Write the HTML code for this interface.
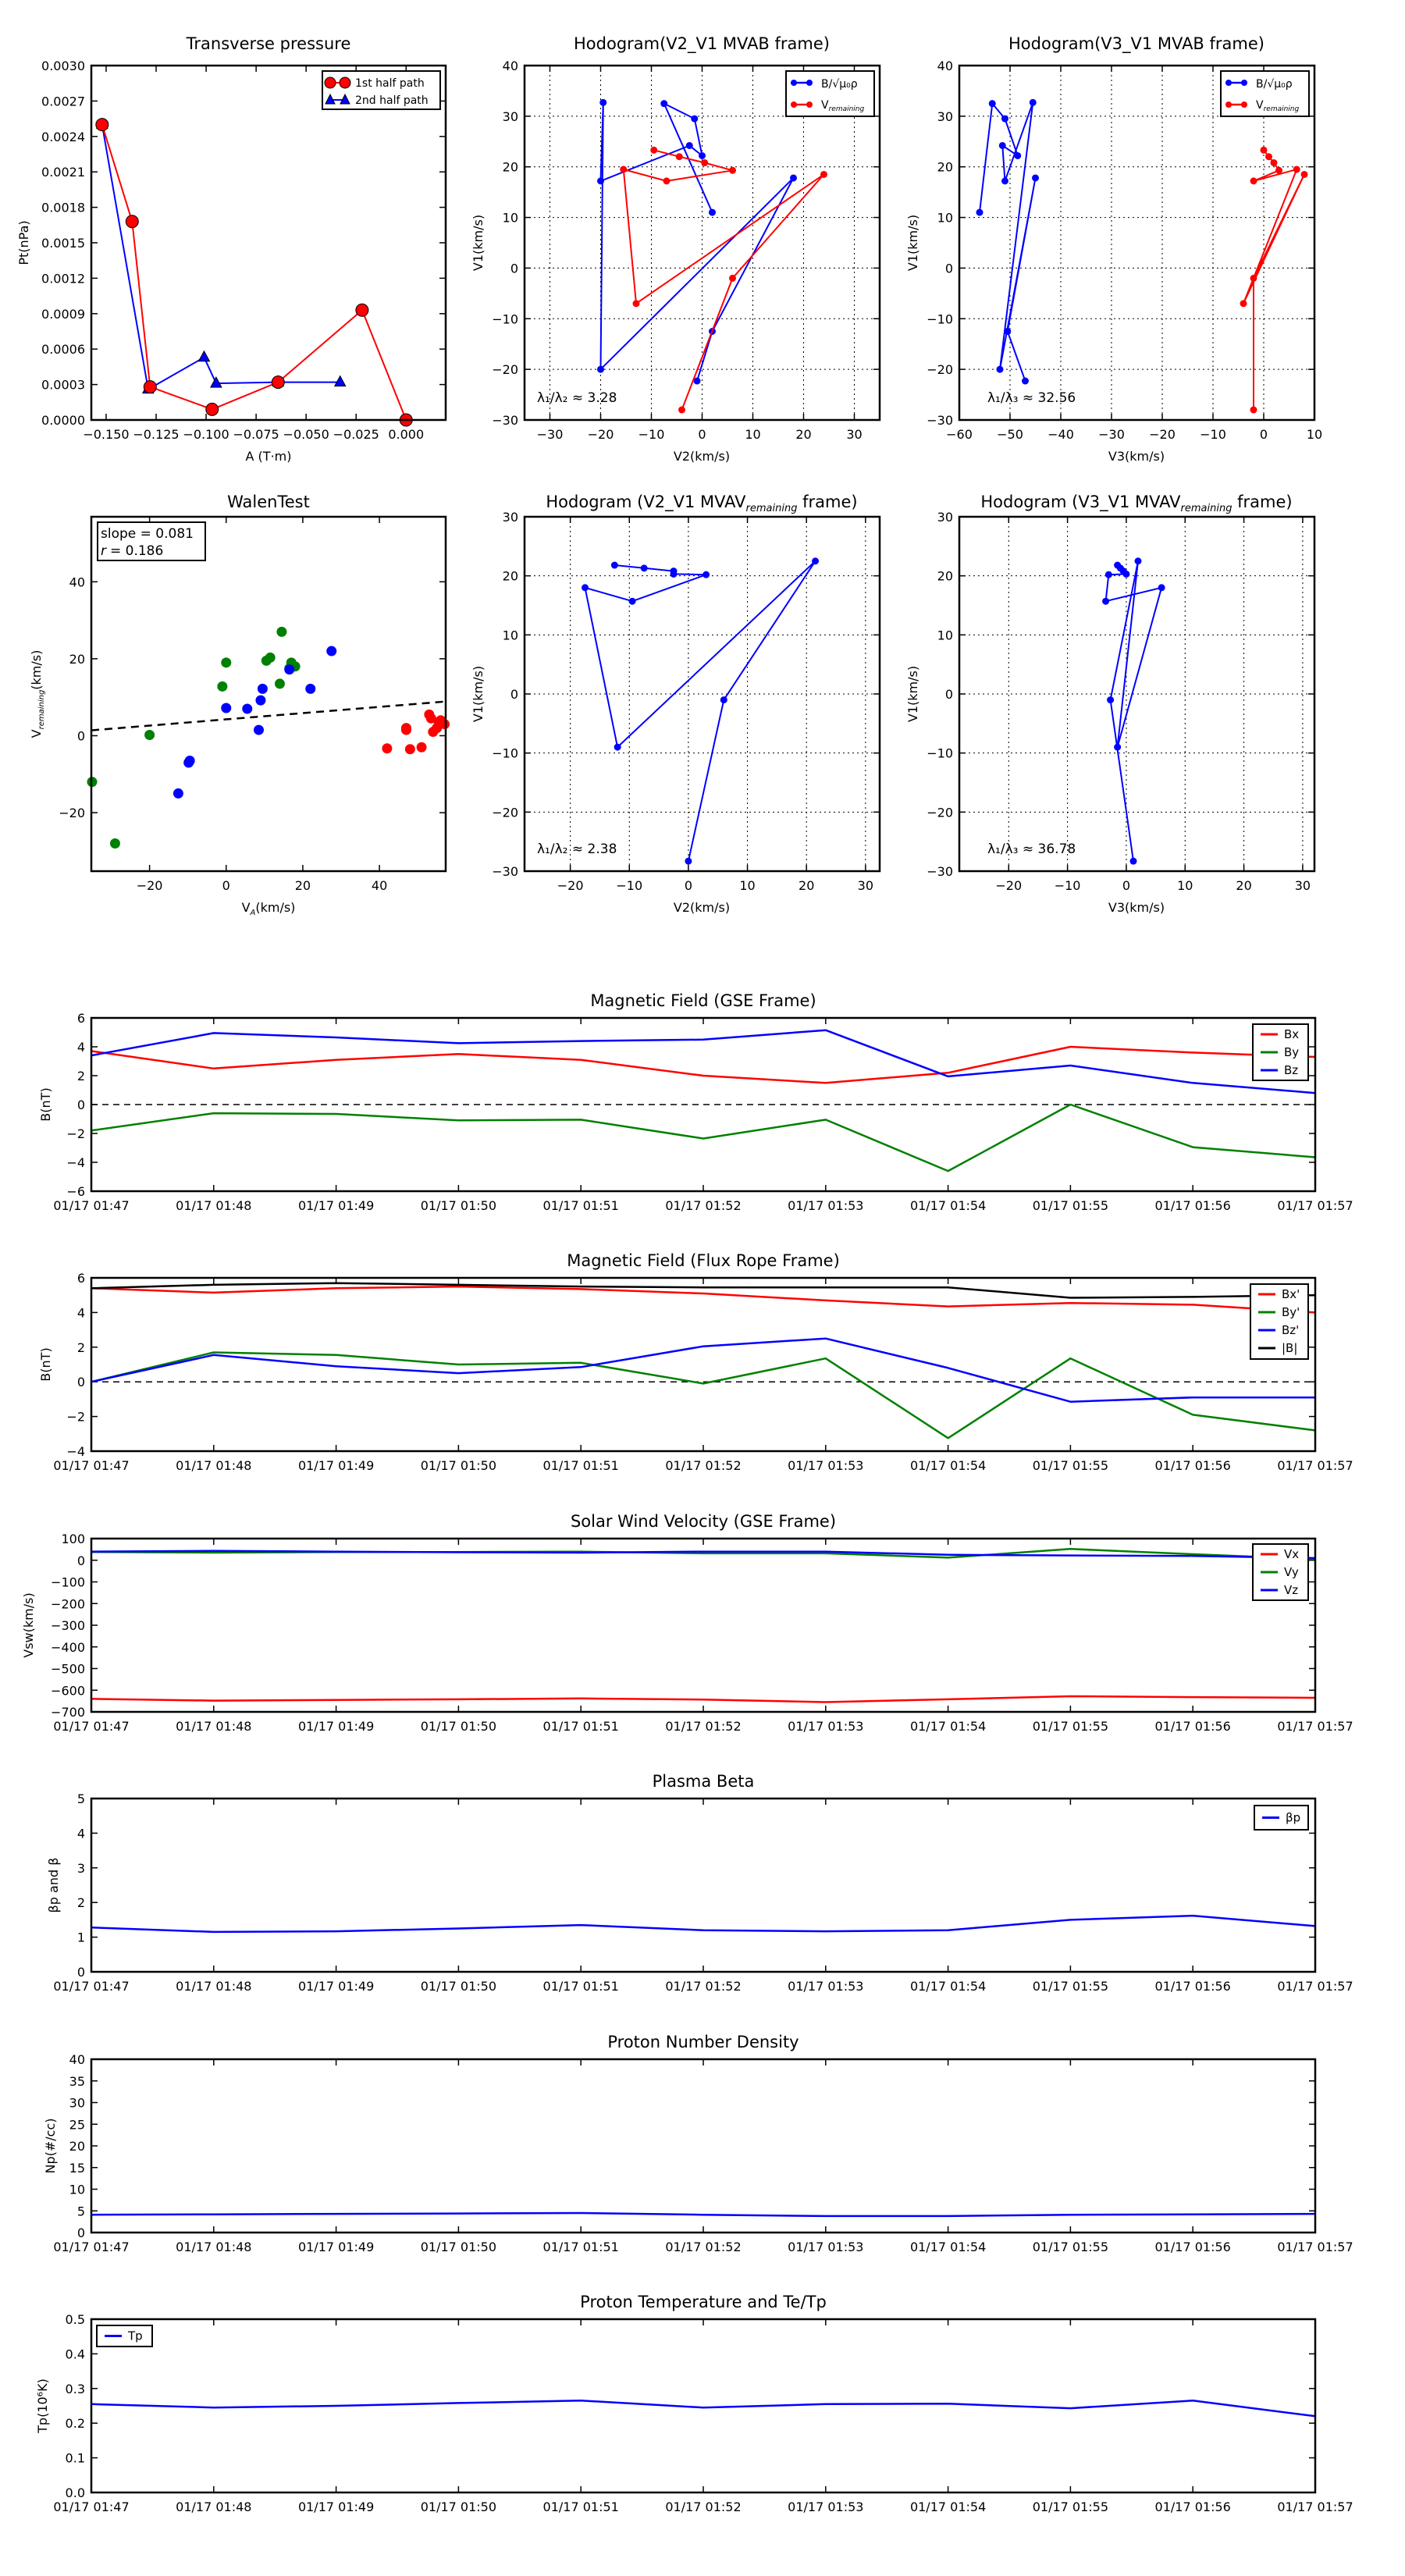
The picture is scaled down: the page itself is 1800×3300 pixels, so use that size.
<!DOCTYPE html>
<html><head><meta charset="utf-8"><style>
html,body{margin:0;padding:0;background:#fff;}
svg{display:block;font-family:"DejaVu Sans","Liberation Sans",sans-serif;}
</style></head><body>
<svg id="fig" width="1800" height="3300" viewBox="0 0 1800 3300" xmlns="http://www.w3.org/2000/svg"></svg>
<script>
const NS="http://www.w3.org/2000/svg";
// ---------- DATA ----------
const timeLabels=["01/17 01:47","01/17 01:48","01/17 01:49","01/17 01:50","01/17 01:51","01/17 01:52","01/17 01:53","01/17 01:54","01/17 01:55","01/17 01:56","01/17 01:57"];
const gseBx=[3.7,2.5,3.1,3.5,3.1,2.0,1.5,2.2,4.0,3.6,3.3];
const gseBy=[-1.8,-0.6,-0.65,-1.1,-1.05,-2.35,-1.05,-4.6,0.0,-2.95,-3.65];
const gseBz=[3.4,4.95,4.65,4.25,4.4,4.5,5.15,1.95,2.7,1.5,0.8];
const frBx=[5.4,5.15,5.4,5.5,5.35,5.1,4.7,4.35,4.55,4.45,4.0];
const frBy=[0,1.7,1.55,1.0,1.1,-0.1,1.35,-3.25,1.35,-1.9,-2.8];
const frBz=[0,1.55,0.9,0.5,0.85,2.05,2.5,0.8,-1.15,-0.9,-0.9];
const frBt=[5.4,5.6,5.7,5.6,5.5,5.45,5.45,5.45,4.85,4.9,5.0];
const vswVx=[-640,-648,-645,-642,-638,-643,-655,-642,-628,-632,-635];
const vswVy=[38,35,38,38,40,32,32,12,52,28,5];
const vswVz=[40,43,40,37,35,40,40,25,22,20,10];
const betaP=[1.28,1.15,1.17,1.25,1.35,1.2,1.17,1.2,1.5,1.62,1.32];
const densNp=[4.1,4.2,4.3,4.4,4.5,4.1,3.8,3.8,4.1,4.2,4.3];
const tempTp=[0.255,0.245,0.25,0.258,0.265,0.245,0.255,0.256,0.243,0.265,0.22];
const ptA1=[-0.152,-0.137,-0.128,-0.097,-0.064,-0.022,0.000];
const ptP1=[0.0025,0.00168,0.00028,0.00009,0.00032,0.00093,0.0];
const ptA2=[-0.152,-0.129,-0.101,-0.095,-0.064,-0.033];
const ptP2=[0.0025,0.00026,0.00053,0.00031,0.00032,0.00032];
const hbV2=[2,-7.5,-1.5,0,-2.5,-20,-19.5,-20,18,2,-1];
const hbV3=[-56,-53.5,-51,-48.5,-51.5,-51,-45.5,-52,-45,-50.5,-47];
const hbV1=[11,32.5,29.5,22.2,24.2,17.2,32.7,-20,17.8,-12.5,-22.3];
const hrV2=[-9.5,-4.5,0.5,6,-7,-15.5,-13,24,6,-4];
const hrV3=[0,1,2,3,-2,6.5,-4,8,-2,-2];
const hrV1=[23.3,22,20.8,19.3,17.2,19.5,-7,18.5,-2,-28];
const walenGX=[-35,-29,-20,-1,0,10.5,11.5,14.5,14,17,18,16.5];
const walenGY=[-12,-28,0.2,12.8,19,19.5,20.3,27,13.5,19,18,17.5];
const walenBX=[0,5.5,9,9.5,8.5,16.5,22,27.5,-9.5,-9.8,-12.5];
const walenBY=[7.2,7,9.2,12.2,1.5,17.2,12.2,22,-6.5,-7,-15];
const walenRX=[42,47,47,48,51,53,53.5,54,55.5,56,57,55];
const walenRY=[-3.3,2,1.5,-3.5,-3,5.5,4.5,1,3.5,4,3,2];
const walenSlope=0.081, walenIntercept=4.25;
const mvV2=[-12.5,-7.5,-2.5,-2.5,3,-9.5,-17.5,-12,21.5,6,0];
const mvV3=[-1.5,-1,-0.5,0,-3,-3.5,6,-1.5,2,-2.7,1.2];
const mvV1=[21.8,21.3,20.8,20.3,20.2,15.7,18,-9,22.5,-1,-28.3];

const svg=document.getElementById('fig');
const C1={x0:117,x1:571}, C2={x0:672,x1:1127}, C3={x0:1229,x1:1684};
const R1={y0:84,y1:538}, R2={y0:662,y1:1116};
function mk(tag,attrs,name,parent){
  const el=document.createElementNS(NS,tag);
  for(const k in attrs) el.setAttribute(k,attrs[k]);
  
  
  (parent||svg).appendChild(el);
  return el;
}
function txt(x,y,s,size,anchor,name,rot){
  const a={x:x,y:y,'font-size':size,'text-anchor':anchor||'middle',fill:'#000'};
  if(rot) a.transform='rotate(-90 '+x+' '+y+')';
  const t=mk('text',a,name);
  t.textContent=s; return t;
}
function scale(d0,d1,r0,r1){return v=>r0+(v-d0)/(d1-d0)*(r1-r0);}
function axes(b,xd,yd,xt,xl,yt,yl,grid,pfx){
  const X=scale(xd[0],xd[1],b.x0,b.x1), Y=scale(yd[0],yd[1],b.y1,b.y0);
  if(grid){
    xt.forEach(v=>{mk('line',{x1:X(v),x2:X(v),y1:b.y0,y2:b.y1,stroke:'#000','stroke-width':1,'stroke-dasharray':'2,4'},pfx+'-x-grid');});
    yt.forEach(v=>{mk('line',{x1:b.x0,x2:b.x1,y1:Y(v),y2:Y(v),stroke:'#000','stroke-width':1,'stroke-dasharray':'2,4'},pfx+'-y-grid');});
  }
  xt.forEach((v,i)=>{
    mk('line',{x1:X(v),x2:X(v),y1:b.y1,y2:b.y1-8,stroke:'#000','stroke-width':1.5},pfx+'-x-tick');
    mk('line',{x1:X(v),x2:X(v),y1:b.y0,y2:b.y0+8,stroke:'#000','stroke-width':1.5},pfx+'-x-tick-top');
    txt(X(v),b.y1+24,xl[i],16,'middle',pfx+'-x-tick-label');
  });
  yt.forEach((v,i)=>{
    mk('line',{x1:b.x0,x2:b.x0+8,y1:Y(v),y2:Y(v),stroke:'#000','stroke-width':1.5},pfx+'-y-tick');
    mk('line',{x1:b.x1,x2:b.x1-8,y1:Y(v),y2:Y(v),stroke:'#000','stroke-width':1.5},pfx+'-y-tick-right');
    txt(b.x0-8,Y(v)+6,yl[i],16,'end',pfx+'-y-tick-label');
  });
  return {X,Y};
}
function frame(b,pfx){mk('rect',{x:b.x0,y:b.y0,width:b.x1-b.x0,height:b.y1-b.y0,fill:'none',stroke:'#000','stroke-width':2.5},pfx+'-frame');}
function line(xs,ys,X,Y,color,name,w){
  const pts=xs.map((v,i)=>X(v).toFixed(1)+','+Y(ys[i]).toFixed(1)).join(' ');
  return mk('polyline',{points:pts,fill:'none',stroke:color,'stroke-width':w||2.5,'stroke-linejoin':'round'},name);
}
function dots(xs,ys,X,Y,color,r,name){
  xs.forEach((v,i)=>{mk('circle',{cx:X(v),cy:Y(ys[i]),r:r,fill:color,stroke:color},name);});
}
function range(a,b,s){const r=[];for(let v=a;v<=b+1e-9;v+=s)r.push(+v.toFixed(6));return r;}
function legendBox(x,y,w,h,entries,name){
  mk('rect',{x:x,y:y,width:w,height:h,fill:'#fff',stroke:'#000','stroke-width':2},name);
  const start=entries.length===1?h/2:13;
  entries.forEach((e,i)=>{
    const yy=y+start+i*(e.step||23);
    mk('line',{x1:x+10,x2:x+32,y1:yy,y2:yy,stroke:e.c,'stroke-width':3},name+'-swatch');
    txt(x+40,yy+5,e.t,15,'start',name+'-label');
  });
}
function neg(v){return v<0?'\u2212'+(-v):''+v;}

// ---------- Transverse pressure ----------
(function(){
  const b={x0:C1.x0,x1:C1.x1,y0:R1.y0,y1:R1.y1};
  const xd=[-0.1574,0.0198], yd=[0,0.003];
  const xt=range(-0.15,0,0.025), yt=range(0,0.003,0.0003);
  const xl=xt.map(v=>(v<0?'\u2212':'')+Math.abs(v).toFixed(3));
  const yl=yt.map(v=>v.toFixed(4));
  const {X,Y}=axes(b,xd,yd,xt,xl,yt,yl,false,'pressure');
  line(ptA2,ptP2,X,Y,'#0000ff','second-half-path-line',2);
  line(ptA1,ptP1,X,Y,'#ff0000','first-half-path-line',2);
  ptA2.forEach((v,i)=>{const x=X(v),y=Y(ptP2[i]);mk('polygon',{points:`${x},${y-8} ${x-7},${y+5} ${x+7},${y+5}`,fill:'#0000ff',stroke:'#000'},'second-half-marker');});
  ptA1.forEach((v,i)=>{mk('circle',{cx:X(v),cy:Y(ptP1[i]),r:8,fill:'#ff0000',stroke:'#000'},'first-half-marker');});
  frame(b,'pressure');
  txt(344,63,'Transverse pressure',21,'middle','pressure-title');
  txt(344,590,'A (T\u00B7m)',16,'middle','pressure-x-title');
  txt(36,311,'Pt(nPa)',16,'middle','pressure-y-title',true);
  mk('rect',{x:413,y:91,width:151,height:49,fill:'#fff',stroke:'#000','stroke-width':2},'pressure-legend');
  mk('line',{x1:420,x2:445,y1:106,y2:106,stroke:'#ff0000','stroke-width':2},'legend-1st-line');
  mk('circle',{cx:423,cy:106,r:7,fill:'#ff0000',stroke:'#000'},'legend-1st-marker');
  mk('circle',{cx:442,cy:106,r:7,fill:'#ff0000',stroke:'#000'},'legend-1st-marker');
  txt(455,111,'1st half path',14,'start','legend-1st-label');
  mk('line',{x1:420,x2:445,y1:128,y2:128,stroke:'#0000ff','stroke-width':2},'legend-2nd-line');
  mk('polygon',{points:'423,121 417,133 429,133',fill:'#0000ff',stroke:'#000'},'legend-2nd-marker');
  mk('polygon',{points:'442,121 436,133 448,133',fill:'#0000ff',stroke:'#000'},'legend-2nd-marker');
  txt(455,133,'2nd half path',14,'start','legend-2nd-label');
})();

function hodoLegend(x,name){
  mk('rect',{x:x,y:91,width:113,height:58,fill:'#fff',stroke:'#000','stroke-width':2},name);
  mk('line',{x1:x+8,x2:x+32,y1:106,y2:106,stroke:'#0000ff','stroke-width':2.5},name+'-b-line');
  mk('circle',{cx:x+10,cy:106,r:4,fill:'#0000ff'},name+'-b-dot');
  mk('circle',{cx:x+30,cy:106,r:4,fill:'#0000ff'},name+'-b-dot');
  txt(x+45,112,'B/\u221A\u03BC\u2080\u03C1',14,'start',name+'-b-label');
  mk('line',{x1:x+8,x2:x+32,y1:134,y2:134,stroke:'#ff0000','stroke-width':2.5},name+'-v-line');
  mk('circle',{cx:x+10,cy:134,r:4,fill:'#ff0000'},name+'-v-dot');
  mk('circle',{cx:x+30,cy:134,r:4,fill:'#ff0000'},name+'-v-dot');
  const t2=txt(x+45,139,'V',14,'start',name+'-v-label');
  const ts=mk('tspan',{'font-size':9,'font-style':'italic',dy:3},name+'-v-sub',t2); ts.textContent='remaining';
}
// ---------- Hodogram V2-V1 MVAB ----------
(function(){
  const b={x0:C2.x0,x1:C2.x1,y0:R1.y0,y1:R1.y1};
  const xt=range(-30,30,10), yt=range(-30,40,10);
  const {X,Y}=axes(b,[-35,35],[-30,40],xt,xt.map(neg),yt,yt.map(neg),true,'hodo-mvab-v2');
  line(hbV2,hbV1,X,Y,'#0000ff','b-field-path',2);dots(hbV2,hbV1,X,Y,'#0000ff',4,'b-field-point');
  line(hrV2,hrV1,X,Y,'#ff0000','velocity-path',2);dots(hrV2,hrV1,X,Y,'#ff0000',4,'velocity-point');
  frame(b,'hodo-mvab-v2');
  txt(899,63,'Hodogram(V2_V1 MVAB frame)',21,'middle','hodo-mvab-v2-title');
  txt(899,590,'V2(km/s)',16,'middle','hodo-mvab-v2-x-title');
  txt(618,311,'V1(km/s)',16,'middle','hodo-mvab-v2-y-title',true);
  txt(688,515,'\u03BB\u2081/\u03BB\u2082 \u2248 3.28',17,'start','eigen-ratio-label');
  hodoLegend(1007,'hodo-mvab-v2-legend');
})();
// ---------- Hodogram V3-V1 MVAB ----------
(function(){
  const b={x0:C3.x0,x1:C3.x1,y0:R1.y0,y1:R1.y1};
  const xt=range(-60,10,10), yt=range(-30,40,10);
  const {X,Y}=axes(b,[-60,10],[-30,40],xt,xt.map(neg),yt,yt.map(neg),true,'hodo-mvab-v3');
  line(hbV3,hbV1,X,Y,'#0000ff','b-field-path',2);dots(hbV3,hbV1,X,Y,'#0000ff',4,'b-field-point');
  line(hrV3,hrV1,X,Y,'#ff0000','velocity-path',2);dots(hrV3,hrV1,X,Y,'#ff0000',4,'velocity-point');
  frame(b,'hodo-mvab-v3');
  txt(1456,63,'Hodogram(V3_V1 MVAB frame)',21,'middle','hodo-mvab-v3-title');
  txt(1456,590,'V3(km/s)',16,'middle','hodo-mvab-v3-x-title');
  txt(1175,311,'V1(km/s)',16,'middle','hodo-mvab-v3-y-title',true);
  txt(1265,515,'\u03BB\u2081/\u03BB\u2083 \u2248 32.56',17,'start','eigen-ratio-label');
  hodoLegend(1564,'hodo-mvab-v3-legend');
})();
// ---------- Walen test ----------
(function(){
  const b={x0:C1.x0,x1:C1.x1,y0:R2.y0,y1:R2.y1};
  const xd=[-35.2,57.3], yd=[-35.2,56.9];
  const xt=[-20,0,20,40], yt=[-20,0,20,40];
  const {X,Y}=axes(b,xd,yd,xt,xt.map(neg),yt,yt.map(neg),false,'walen');
  mk('line',{x1:X(xd[0]),y1:Y(walenIntercept+walenSlope*xd[0]),x2:X(xd[1]),y2:Y(walenIntercept+walenSlope*xd[1]),stroke:'#000','stroke-width':2.5,'stroke-dasharray':'10,7'},'walen-fit-line');
  dots(walenGX,walenGY,X,Y,'#008000',6,'walen-point-green');
  dots(walenBX,walenBY,X,Y,'#0000ff',6,'walen-point-blue');
  dots(walenRX,walenRY,X,Y,'#ff0000',6,'walen-point-red');
  frame(b,'walen');
  txt(344,650,'WalenTest',21,'middle','walen-title');
  const xl=txt(344,1168,'V',16,'middle','walen-x-title');
  const s1=mk('tspan',{'font-size':10,'font-style':'italic',dy:4},'walen-x-sub',xl);s1.textContent='A';
  const s2=mk('tspan',{dy:-4},'walen-x-unit',xl);s2.textContent='(km/s)';
  const yl=txt(52,889,'V',16,'middle','walen-y-title',true);
  const s3=mk('tspan',{'font-size':10,'font-style':'italic',dy:4},'walen-y-sub',yl);s3.textContent='remaining';
  const s4=mk('tspan',{dy:-4},'walen-y-unit',yl);s4.textContent='(km/s)';
  mk('rect',{x:125,y:669,width:138,height:49,fill:'#fff',stroke:'#000','stroke-width':2},'walen-stats-box');
  txt(129,689,'slope = 0.081',17,'start','walen-slope-label');
  const rt=txt(129,711,'r',17,'start','walen-r-label');rt.setAttribute('font-style','italic');
  txt(141,711,' = 0.186',17,'start','walen-r-value');
})();
// ---------- MVAV hodograms ----------
(function(){
  const b={x0:C2.x0,x1:C2.x1,y0:R2.y0,y1:R2.y1};
  const xt=range(-20,30,10), yt=range(-30,30,10);
  const {X,Y}=axes(b,[-27.75,32.4],[-30,30],xt,xt.map(neg),yt,yt.map(neg),true,'hodo-mvav-v2');
  line(mvV2,mvV1,X,Y,'#0000ff','mvav-path',2);dots(mvV2,mvV1,X,Y,'#0000ff',4,'mvav-point');
  frame(b,'hodo-mvav-v2');
  const t=txt(899,650,'Hodogram (V2_V1 MVAV',21,'middle','hodo-mvav-v2-title');
  const s=mk('tspan',{'font-size':13,'font-style':'italic',dy:5},'title-sub',t);s.textContent='remaining';
  const s2=mk('tspan',{dy:-5},'title-end',t);s2.textContent=' frame)';
  txt(899,1168,'V2(km/s)',16,'middle','hodo-mvav-v2-x-title');
  txt(618,889,'V1(km/s)',16,'middle','hodo-mvav-v2-y-title',true);
  txt(688,1093,'\u03BB\u2081/\u03BB\u2082 \u2248 2.38',17,'start','eigen-ratio-label');
})();
(function(){
  const b={x0:C3.x0,x1:C3.x1,y0:R2.y0,y1:R2.y1};
  const xt=range(-20,30,10), yt=range(-30,30,10);
  const {X,Y}=axes(b,[-28.4,32],[-30,30],xt,xt.map(neg),yt,yt.map(neg),true,'hodo-mvav-v3');
  line(mvV3,mvV1,X,Y,'#0000ff','mvav-path',2);dots(mvV3,mvV1,X,Y,'#0000ff',4,'mvav-point');
  frame(b,'hodo-mvav-v3');
  const t=txt(1456,650,'Hodogram (V3_V1 MVAV',21,'middle','hodo-mvav-v3-title');
  const s=mk('tspan',{'font-size':13,'font-style':'italic',dy:5},'title-sub',t);s.textContent='remaining';
  const s2=mk('tspan',{dy:-5},'title-end',t);s2.textContent=' frame)';
  txt(1456,1168,'V3(km/s)',16,'middle','hodo-mvav-v3-x-title');
  txt(1175,889,'V1(km/s)',16,'middle','hodo-mvav-v3-y-title',true);
  txt(1265,1093,'\u03BB\u2081/\u03BB\u2083 \u2248 36.78',17,'start','eigen-ratio-label');
})();

// ---------- Time series ----------
const tIdx=timeLabels.map((_,i)=>i);
const TX0=117, TX1=1685;
function tpanel(top,yd,yt,yl,title,ylab,ylabX,pfx){
  const b={x0:TX0,x1:TX1,y0:top,y1:top+222};
  const r=axes(b,[0,10],yd,tIdx,timeLabels,yt,yl,false,pfx);
  txt(901,top-15,title,21,'middle',pfx+'-title');
  txt(ylabX,top+111,ylab,16,'middle',pfx+'-y-title',true);
  r.b=b; return r;
}
(function(){
  const yt=range(-6,6,2);
  const {X,Y,b}=tpanel(1304,[-6,6],yt,yt.map(neg),'Magnetic Field (GSE Frame)','B(nT)',64,'gse');
  mk('line',{x1:b.x0,x2:b.x1,y1:Y(0),y2:Y(0),stroke:'#000','stroke-width':1.5,'stroke-dasharray':'8,6'},'gse-zero-line');
  line(tIdx,gseBx,X,Y,'#ff0000','gse-bx-line');line(tIdx,gseBy,X,Y,'#008000','gse-by-line');line(tIdx,gseBz,X,Y,'#0000ff','gse-bz-line');
  frame(b,'gse');
  legendBox(1605,1312,71,72,[{c:'#ff0000',t:'Bx'},{c:'#008000',t:'By'},{c:'#0000ff',t:'Bz'}],'gse-legend');
})();
(function(){
  const yt=range(-4,6,2);
  const {X,Y,b}=tpanel(1637,[-4,6],yt,yt.map(neg),'Magnetic Field (Flux Rope Frame)','B(nT)',64,'fluxrope');
  mk('line',{x1:b.x0,x2:b.x1,y1:Y(0),y2:Y(0),stroke:'#000','stroke-width':1.5,'stroke-dasharray':'8,6'},'fluxrope-zero-line');
  line(tIdx,frBx,X,Y,'#ff0000','fluxrope-bx-line');line(tIdx,frBy,X,Y,'#008000','fluxrope-by-line');line(tIdx,frBz,X,Y,'#0000ff','fluxrope-bz-line');line(tIdx,frBt,X,Y,'#000000','fluxrope-btotal-line');
  frame(b,'fluxrope');
  legendBox(1602,1645,74,96,[{c:'#ff0000',t:"Bx'"},{c:'#008000',t:"By'"},{c:'#0000ff',t:"Bz'"},{c:'#000',t:'|B|'}],'fluxrope-legend');
})();
(function(){
  const yt=range(-700,100,100);
  const {X,Y,b}=tpanel(1971,[-700,100],yt,yt.map(neg),'Solar Wind Velocity (GSE Frame)','Vsw(km/s)',42,'velocity');
  line(tIdx,vswVx,X,Y,'#ff0000','velocity-vx-line');line(tIdx,vswVy,X,Y,'#008000','velocity-vy-line');line(tIdx,vswVz,X,Y,'#0000ff','velocity-vz-line');
  frame(b,'velocity');
  legendBox(1605,1978,71,72,[{c:'#ff0000',t:'Vx'},{c:'#008000',t:'Vy'},{c:'#0000ff',t:'Vz'}],'velocity-legend');
})();
(function(){
  const yt=range(0,5,1);
  const {X,Y,b}=tpanel(2304,[0,5],yt,yt.map(String),'Plasma Beta','\u03B2p and \u03B2',74,'beta');
  line(tIdx,betaP,X,Y,'#0000ff','beta-line');
  frame(b,'beta');
  legendBox(1607,2313,69,31,[{c:'#0000ff',t:'\u03B2p'}],'beta-legend');
})();
(function(){
  const yt=range(0,40,5);
  const {X,Y,b}=tpanel(2638,[0,40],yt,yt.map(String),'Proton Number Density','Np(#/cc)',70,'density');
  line(tIdx,densNp,X,Y,'#0000ff','density-line');
  frame(b,'density');
})();
(function(){
  const yt=range(0,0.5,0.1);
  const {X,Y,b}=tpanel(2971,[0,0.5],yt,yt.map(v=>v.toFixed(1)),'Proton Temperature and Te/Tp','Tp(10\u2076K)',60,'temperature');
  line(tIdx,tempTp,X,Y,'#0000ff','temperature-line');
  frame(b,'temperature');
  legendBox(124,2979,71,27,[{c:'#0000ff',t:'Tp'}],'temperature-legend');
})();
</script>
</body></html>
